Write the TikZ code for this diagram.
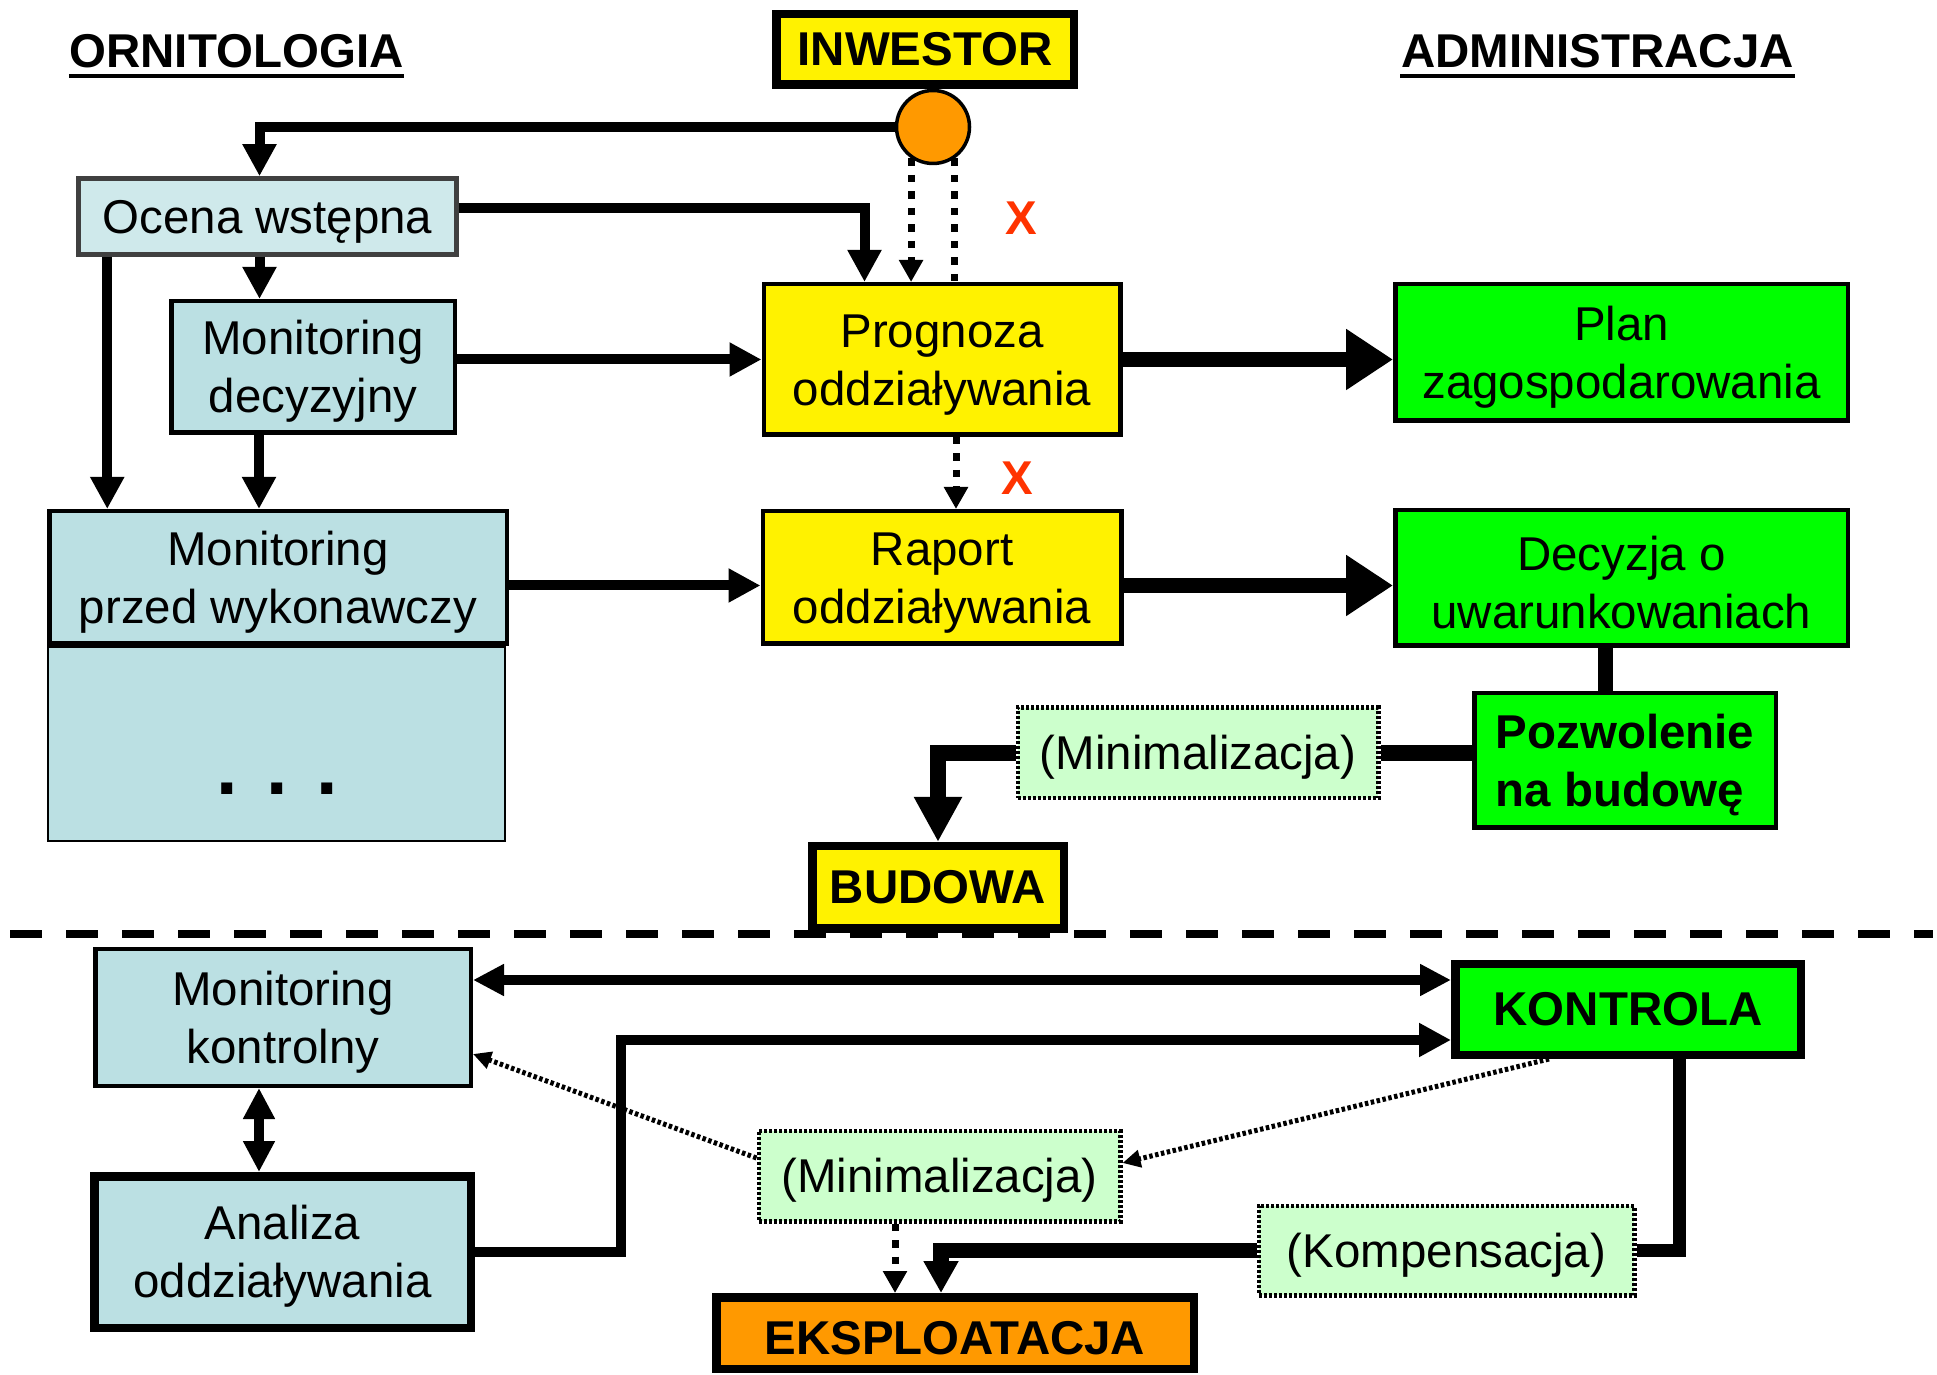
\documentclass[tikz,border=0pt]{standalone}
\usepackage{fontspec}
\setmainfont{Liberation Sans}
\usetikzlibrary{arrows.meta}
\definecolor{lblue}{RGB}{187,224,227}
\definecolor{lgreen}{RGB}{204,255,204}
\definecolor{orng}{RGB}{255,153,0}
\definecolor{xred}{RGB}{255,51,0}
\newcommand{\diagfont}{\fontsize{13.5}{16.5}\selectfont}
\newcommand{\tstrut}{\rule{0pt}{0.92em}}

\begin{document}
\begin{tikzpicture}[
    font=\diagfont,
    blk/.style={draw, line width=0.045cm, inner sep=0pt, align=center},
    heavy/.style={line width=0.085cm},
    bold/.style={font=\diagfont\bfseries},
    bluebox/.style={blk, fill=lblue},
    yellowbox/.style={blk, fill=yellow},
    greenbox/.style={blk, fill=green},
    notebox/.style={blk, fill=lgreen, line width=0.045cm, dash pattern=on 0.03cm off 0.02cm},
    arr/.style={-{Triangle[length=0.32cm,width=0.32cm]}, line width=0.1cm},
    dblarr/.style={{Triangle[length=0.31cm,width=0.3cm]}-{Triangle[length=0.31cm,width=0.3cm]}, line width=0.1cm},
    bigarr/.style={-{Triangle[length=0.47cm,width=0.58cm]}, line width=0.155cm},
    dotline/.style={line width=0.07cm, dash pattern=on 0.075cm off 0.09cm},
    dotarr/.style={dotline, -{Triangle[length=0.22cm,width=0.23cm]}},
    fineline/.style={line width=0.05cm, dash pattern=on 0.035cm off 0.025cm, -{Triangle[length=0.18cm,width=0.17cm]}},
  ]
  \useasboundingbox (0,0) rectangle (19.37,-13.75);

  % naglowki
  \node[bold, inner sep=0pt, anchor=base] (orn) at (2.365,-0.68) {ORNITOLOGIA};
  \node[bold, inner sep=0pt, anchor=base] (adm) at (15.975,-0.68) {ADMINISTRACJA};
  \draw[line width=0.04cm] ([yshift=-0.08cm]orn.base west) -- ([yshift=-0.08cm]orn.base east);
  \draw[line width=0.04cm] ([yshift=-0.08cm]adm.base west) -- ([yshift=-0.08cm]adm.base east);

  \node[yellowbox, heavy, bold, minimum width=2.975cm, minimum height=0.705cm] (inwestor) at (9.25,-0.495) {INWESTOR};
  \node[circle, draw, fill=orng, line width=0.035cm, minimum size=0.73cm, inner sep=0pt] (dot) at (9.33,-1.27) {};

  % ornitologia
  \node[blk, fill=lblue!70!white, draw=black!75, minimum width=3.78cm, minimum height=0.76cm] (ocena) at (2.675,-2.165) {\tstrut Ocena wstępna};
  \node[bluebox, minimum width=2.835cm, minimum height=1.315cm] (mondec) at (3.13,-3.67) {\tstrut Monitoring\\decyzyjny};
  \node[bluebox, line width=0.02cm, minimum width=4.57cm, minimum height=1.94cm] (monrest) at (2.765,-7.44) {};
  \node[font=\fontsize{22}{26}\selectfont\bfseries, inner sep=0pt] (dots) at (2.77,-7.89) {. . .};
  \node[bluebox, minimum width=4.575cm, minimum height=1.325cm] (monprzed) at (2.78,-5.775) {\tstrut Monitoring\\przed wykonawczy};

  % oddzialywanie
  \node[yellowbox, minimum width=3.565cm, minimum height=1.505cm] (prognoza) at (9.42,-3.595) {\tstrut Prognoza\\oddziaływania};
  \node[yellowbox, minimum width=3.585cm, minimum height=1.325cm] (raport) at (9.42,-5.775) {\tstrut Raport\\oddziaływania};
  \node[bold, text=xred, inner sep=0pt] (x1) at (10.21,-2.18) {X};
  \node[bold, text=xred, inner sep=0pt] (x2) at (10.17,-4.78) {X};

  % administracja
  \node[greenbox, minimum width=4.525cm, minimum height=1.365cm] (plan) at (16.215,-3.525) {\tstrut Plan\\zagospodarowania};
  \node[greenbox, minimum width=4.525cm, minimum height=1.355cm] (decyzja) at (16.215,-5.78) {\tstrut Decyzja o\\uwarunkowaniach};
  \node[greenbox, bold, align=left, minimum width=3.015cm, minimum height=1.345cm] (pozwolenie) at (16.25,-7.605) {\tstrut Pozwolenie\\na budowę};
  \node[notebox, minimum width=3.605cm, minimum height=0.905cm] (minim1) at (11.98,-7.53) {\tstrut(Minimalizacja)};
  \node[yellowbox, heavy, bold, minimum width=2.515cm, minimum height=0.825cm] (budowa) at (9.38,-8.875) {BUDOWA};

  \draw[line width=0.08cm, dash pattern=on 0.32cm off 0.24cm] (0.1,-9.34) -- (19.33,-9.34);

  % eksploatacja
  \node[bluebox, minimum width=3.755cm, minimum height=1.365cm] (monkontr) at (2.83,-10.175) {\tstrut Monitoring\\kontrolny};
  \node[bluebox, heavy, minimum width=3.765cm, minimum height=1.515cm] (analiza) at (2.825,-12.52) {\tstrut Analiza\\oddziaływania};
  \node[greenbox, heavy, bold, minimum width=3.455cm, minimum height=0.905cm] (kontrola) at (16.28,-10.095) {KONTROLA};
  \node[notebox, minimum width=3.615cm, minimum height=0.905cm] (minim2) at (9.395,-11.76) {\tstrut(Minimalizacja)};
  \node[notebox, minimum width=3.755cm, minimum height=0.895cm] (kompens) at (14.465,-12.505) {\tstrut(Kompensacja)};
  \node[blk, heavy, bold, fill=orng, minimum width=4.775cm, minimum height=0.715cm] (eksploat) at (9.55,-13.33) {\tstrut EKSPLOATACJA};

  % polaczenia - gora
  \draw[arr] (dot.west) -| ([xshift=-0.08cm]ocena.north);
  \draw[arr] ([yshift=0.08cm]ocena.east) -| ([xshift=-0.775cm]prognoza.north);
  \draw[dotarr] (dot.-125) -- (dot.-125 |- prognoza.north);
  \draw[dotline] (dot.-55) -- (dot.-55 |- prognoza.north);
  \draw[arr] ([xshift=-0.08cm]ocena.south) -- ([xshift=-0.08cm]ocena.south |- mondec.north);
  \draw[arr] ([xshift=0.31cm]ocena.south west) -- ([xshift=0.31cm]ocena.south west |- monprzed.north);
  \draw[arr] ([xshift=-0.54cm]mondec.south) -- ([xshift=-0.54cm]mondec.south |- monprzed.north);
  \draw[arr] (mondec.east |- prognoza.west) -- (prognoza.west);
  \draw[bigarr] (prognoza.east) -- (prognoza.east -| plan.west);
  \draw[dotarr] ([xshift=0.14cm]prognoza.south) -- ([xshift=0.14cm]raport.north);
  \draw[arr] ([yshift=-0.08cm]monprzed.east) -- ([yshift=-0.08cm]raport.west);
  \draw[bigarr] ([yshift=-0.08cm]raport.east) -- ([yshift=-0.08cm]raport.east -| decyzja.west);
  \draw[line width=0.155cm] ([xshift=-0.16cm]decyzja.south) -- ([xshift=-0.16cm]decyzja.south |- pozwolenie.north);
  \draw[line width=0.155cm] (pozwolenie.west |- minim1.east) -- (minim1.east);
  \draw[line width=0.155cm, -{Triangle[length=0.45cm,width=0.45cm]}] (minim1.west) -| (budowa.north);

  % polaczenia - dol
  \draw[dblarr] ([yshift=0.375cm]monkontr.east) -- ([yshift=0.375cm]monkontr.east -| kontrola.west);
  \draw[arr] (analiza.east) -- ++(1.46,0) |- ([yshift=-0.305cm]kontrola.west);
  \draw[dblarr] ([xshift=-0.24cm]monkontr.south) -- ([xshift=-0.24cm]monkontr.south |- analiza.north);
  \draw[fineline] ([yshift=0.18cm]minim2.west) -- ([yshift=-0.365cm]monkontr.east);
  \draw[fineline] ([xshift=-0.79cm]kontrola.south) -- ([yshift=0.13cm]minim2.east);
  \draw[dotarr] ([xshift=-0.445cm]minim2.south) -- ([xshift=-0.445cm]minim2.south |- eksploat.north);
  \draw[line width=0.13cm] ([xshift=0.51cm]kontrola.south) |- (kompens.east);
  \draw[line width=0.155cm, -{Triangle[length=0.32cm,width=0.33cm]}] (kompens.west) -| ([xshift=-0.14cm]eksploat.north);
\end{tikzpicture}
\end{document}
